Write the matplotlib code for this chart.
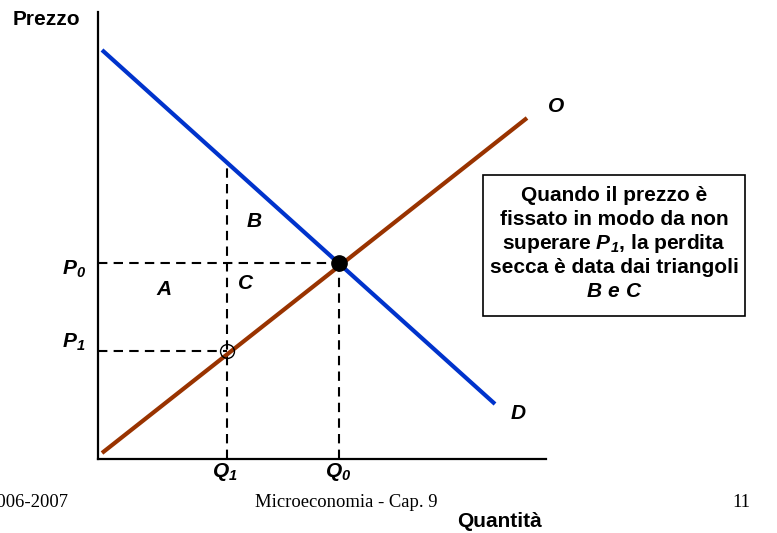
import matplotlib.pyplot as plt
from matplotlib.patches import Rectangle

plt.rcParams['font.family'] = ['Liberation Sans', 'DejaVu Sans']
plt.rcParams['mathtext.fontset'] = 'custom'
plt.rcParams['mathtext.rm'] = 'Liberation Sans:bold'
plt.rcParams['mathtext.bf'] = 'Liberation Sans:bold'
plt.rcParams['mathtext.it'] = 'Liberation Sans:italic:bold'
plt.rcParams['mathtext.bfit'] = 'Liberation Sans:italic:bold'

# curves (quantity, price) in chart units
demand_q = [4, 397]
demand_p = [409, 55]
supply_q = [4, 429]
supply_p = [6, 341]

q0, p0 = 241, 196   # equilibrium
q1, p1 = 129, 108   # price ceiling

box_lines = ['Quando il prezzo è',
             'fissato in modo da non',
             r'superare $\mathbfit{P}_{\mathbfit{1}}$, la perdita',
             'secca è data dai triangoli',
             r'$\mathbfit{B\ e\ C}$']

W, H = 777, 533
fig = plt.figure(figsize=(W / 100, H / 100), dpi=100)
ax = fig.add_axes([98 / W, (H - 459) / H, 448 / W, 447 / H])
ax.set_xlim(0, 448)
ax.set_ylim(0, 447)
for s in ['top', 'right']:
    ax.spines[s].set_visible(False)
for s in ['left', 'bottom']:
    ax.spines[s].set_linewidth(1.6)
ax.set_xticks([])
ax.set_yticks([])

# demand price at Q1 (top of the dashed vertical)
q1_top = demand_p[0] + (demand_p[1] - demand_p[0]) * (q1 - demand_q[0]) / (demand_q[1] - demand_q[0])

dash = (0, (4.5, 3))
kw = dict(color='black', lw=1.5, linestyle=dash, zorder=1)
ax.plot([0, q0], [p0, p0], **kw)
ax.plot([q0, q0], [0, p0], **kw)
ax.plot([0, q1], [p1, p1], **kw)
ax.plot([q1, q1], [0, q1_top], **kw)

ax.plot(demand_q, demand_p, color='#0033CC', lw=3, solid_capstyle='butt', zorder=2)
ax.plot(supply_q, supply_p, color='#993300', lw=3, solid_capstyle='butt', zorder=3)

ax.plot([q0], [p0], 'o', color='black', ms=11, zorder=4)
ax.plot([q1], [p1], 'o', mfc='none', mec='black', mew=1, ms=10, zorder=4)

fs = 15
bi = dict(fontsize=fs, fontweight='bold', fontstyle='italic', clip_on=False)
ax.text(-18, 434, 'Prezzo', fontsize=fs, fontweight='bold', ha='right', va='baseline', clip_on=False)
ax.text(-24, 184, r'$\mathbfit{P}_{\mathbfit{0}}$', fontsize=fs, ha='center', va='baseline', clip_on=False)
ax.text(-24, 111, r'$\mathbfit{P}_{\mathbfit{1}}$', fontsize=fs, ha='center', va='baseline', clip_on=False)
ax.text(127, -18, r'$\mathbfit{Q}_{\mathbfit{1}}$', fontsize=fs, ha='center', va='baseline', clip_on=False)
ax.text(240, -18, r'$\mathbfit{Q}_{\mathbfit{0}}$', fontsize=fs, ha='center', va='baseline', clip_on=False)
ax.text(66, 164, 'A', ha='center', va='baseline', **bi)
ax.text(156, 232, 'B', ha='center', va='baseline', **bi)
ax.text(148, 170, 'C', ha='center', va='baseline', **bi)
ax.text(458, 347, 'O', ha='center', va='baseline', **bi)
ax.text(420, 40, 'D', ha='center', va='baseline', **bi)
ax.text(402, -68, 'Quantità', fontsize=fs, fontweight='bold', ha='center', va='baseline', clip_on=False)

ax.add_patch(Rectangle((385, 143), 262, 141, fill=False, ec='black', lw=1.2, clip_on=False))
for i, line in enumerate(box_lines):
    ax.text(516, 258 - 24 * i, line, fontsize=fs, fontweight='bold', ha='center',
            va='baseline', clip_on=False)

serif = dict(family='Liberation Serif', fontsize=13.4, va='baseline')
fig.text(68 / W, 1 - 507 / H, '2006-2007', ha='right', **serif)
fig.text(346 / W, 1 - 507 / H, 'Microeconomia - Cap. 9', ha='center', **serif)
fig.text(750 / W, 1 - 507 / H, '11', ha='right', **serif)

fig.savefig('out.png', dpi=100)
